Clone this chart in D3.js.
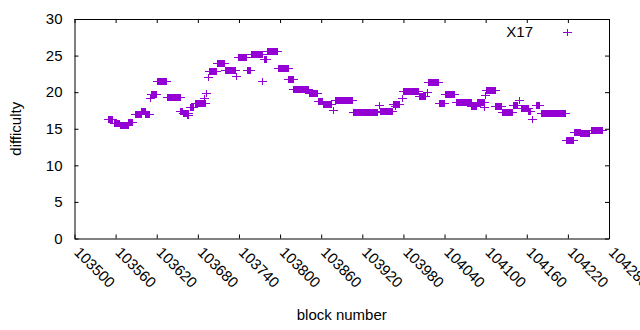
<!DOCTYPE html>
<html>
<head>
<meta charset="utf-8">
<script src="https://cdn.jsdelivr.net/npm/d3@7"></script>
<style>
  body { margin: 0; background: #fff; }
  svg { display: block; font-family: "Liberation Sans", Arial, sans-serif; }
  .axis path, .axis line { stroke: #000; }
</style>
</head>
<body>
<svg id="chart" width="640" height="330"></svg>
<script>
// difficulty runs: first block, last block, difficulty value
var runStart = [103550, 103558, 103567, 103579, 103589, 103598, 103604, 103611, 103612, 103621,
  103636, 103655, 103659, 103665, 103669, 103676, 103690, 103692, 103695, 103697,
  103708, 103720, 103736, 103739, 103752, 103758, 103775, 103777, 103781, 103797,
  103813, 103820, 103843, 103856, 103863, 103878, 103881, 103907, 103945, 103946,
  103968, 103965, 103978, 103980, 104003, 104015, 104016, 104032, 104041, 104057,
  104080, 104088, 104099, 104100, 104101, 104115, 104124, 104140, 104149, 104152,
  104163, 104169, 104174, 104182, 104218, 104229, 104239, 104254];
var runEnd = [103555, 103566, 103579, 103585, 103598, 103604, 103609, 103611, 103620, 103634,
  103655, 103657, 103666, 103667, 103673, 103691, 103690, 103692, 103695, 103707,
  103719, 103735, 103736, 103751, 103757, 103774, 103775, 103780, 103796, 103812,
  103819, 103841, 103854, 103862, 103875, 103878, 103905, 103942, 103945, 103964,
  103968, 103975, 103978, 104002, 104012, 104015, 104031, 104040, 104055, 104079,
  104086, 104098, 104099, 104100, 104114, 104123, 104139, 104147, 104150, 104162,
  104166, 104169, 104179, 104217, 104228, 104238, 104252, 104271];
var runDifficulty = [16.2, 15.7, 15.5, 15.9, 17.0, 17.4, 16.9, 19.1, 19.7, 21.5,
  19.3, 17.3, 17.1, 16.8, 17.9, 18.5, 19.2, 19.8, 22.0, 22.8,
  23.9, 23.0, 22.2, 24.8, 22.9, 25.2, 21.5, 24.4, 25.6, 23.2,
  21.7, 20.4, 19.8, 18.7, 18.3, 17.5, 18.8, 17.2, 18.2, 17.35,
  18.1, 18.35, 19.1, 20.1, 19.45, 20.0, 21.3, 18.45, 19.7, 18.6,
  18.0, 18.6, 17.85, 19.6, 20.2, 18.0, 17.2, 18.2, 18.8, 17.8,
  17.3, 16.3, 18.2, 17.1, 13.4, 14.5, 14.4, 14.8];

var xTicks = [103500, 103560, 103620, 103680, 103740, 103800, 103860, 103920,
  103980, 104040, 104100, 104160, 104220, 104280];
var yTicks = [0, 5, 10, 15, 20, 25, 30];
var seriesName = 'X17';

var svg = d3.select('#chart'),
  plotLeft = 74.5, plotRight = 609, plotTop = 19, plotBottom = 238.5,
  color = '#9400d3',
  fontSize = 15;

var x = d3.scaleLinear().domain([103500, 104280]).range([plotLeft, plotRight]);
var y = d3.scaleLinear().domain([0, 30]).range([plotBottom, plotTop]);

// one point for every block in each run
var points = [];
runStart.forEach(function(s, i){
  d3.range(s, runEnd[i] + 1).forEach(function(b){
    points.push({ block: b, value: runDifficulty[i] });
  });
});

function plus(px, py){
  return 'M' + (px - 4.5) + ',' + py + 'H' + (px + 4.5) +
    'M' + px + ',' + (py - 3.5) + 'V' + (py + 3.5);
}

var gx = svg.append('g')
  .attr('class', 'axis')
  .attr('transform', 'translate(0,' + plotBottom + ')')
  .call(d3.axisBottom(x).tickValues(xTicks).tickSizeInner(-4).tickSizeOuter(0).tickFormat(d3.format('d')));
gx.selectAll('text')
  .attr('y', null).attr('dy', null)
  .attr('transform', 'translate(2,11) rotate(45)')
  .attr('text-anchor', 'start')
  .attr('dy', '0.35em');

svg.append('g')
  .attr('class', 'axis')
  .attr('transform', 'translate(0,' + plotTop + ')')
  .call(d3.axisTop(x).tickValues(xTicks).tickSizeInner(-4).tickSizeOuter(0).tickFormat(''));

svg.append('g')
  .attr('class', 'axis')
  .attr('transform', 'translate(' + plotLeft + ',0)')
  .call(d3.axisLeft(y).tickValues(yTicks).tickSizeInner(-4).tickSizeOuter(0).tickPadding(12));

svg.append('g')
  .attr('class', 'axis')
  .attr('transform', 'translate(' + plotRight + ',0)')
  .call(d3.axisRight(y).tickValues(yTicks).tickSizeInner(-4).tickSizeOuter(0).tickFormat(''));

svg.selectAll('.axis text')
  .attr('fill', '#000')
  .style('font-size', fontSize + 'px')
  .style('font-family', '"Liberation Sans", Arial, sans-serif');

svg.append('g')
  .selectAll('path')
  .data(points)
  .enter().append('path')
  .attr('d', function(d){ return plus(x(d.block), y(d.value)); })
  .attr('stroke', color)
  .attr('stroke-width', 1)
  .attr('fill', 'none')
  .attr('shape-rendering', 'crispEdges');

// legend
svg.append('text')
  .attr('x', 533).attr('y', 32).attr('dy', '0.35em')
  .attr('text-anchor', 'end')
  .style('font-size', fontSize + 'px')
  .text(seriesName);
svg.append('path')
  .attr('d', plus(567, 32))
  .attr('stroke', color)
  .attr('shape-rendering', 'crispEdges');

svg.append('text')
  .attr('x', (plotLeft + plotRight) / 2).attr('y', 320)
  .attr('text-anchor', 'middle')
  .style('font-size', fontSize + 'px')
  .text('block number');

svg.append('text')
  .attr('transform', 'translate(21,' + ((plotTop + plotBottom) / 2) + ') rotate(-90)')
  .attr('text-anchor', 'middle')
  .style('font-size', fontSize + 'px')
  .text('difficulty');
</script>
</body>
</html>
